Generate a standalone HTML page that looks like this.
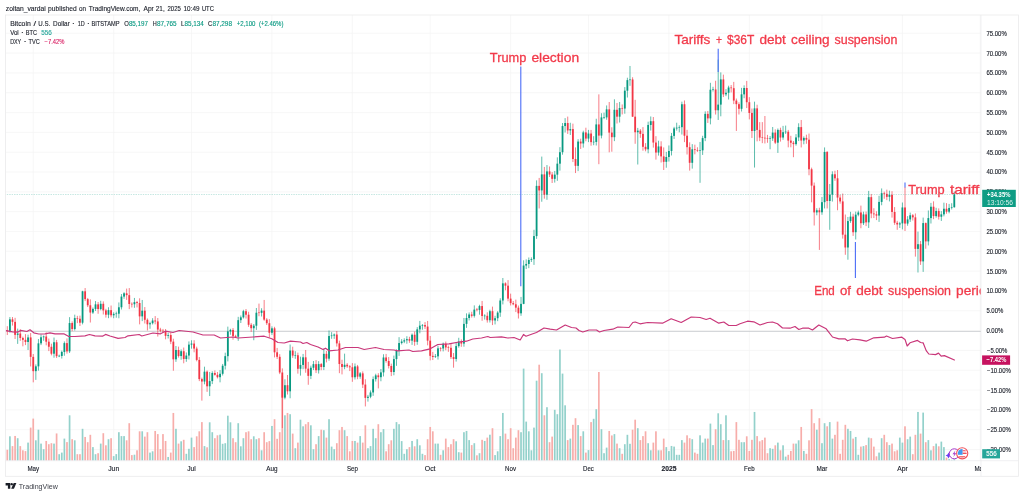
<!DOCTYPE html>
<html lang="en"><head><meta charset="utf-8"><title>BTCUSD chart</title>
<style>html,body{margin:0;padding:0;background:#fff}body{width:1024px;height:496px;overflow:hidden}svg{display:block}text{font-family:"Liberation Sans",sans-serif}</style></head><body>
<svg width="1024" height="496" viewBox="0 0 1024 496">
<rect width="1024" height="496" fill="#fff"/>
<line x1="5.5" x2="981.0" y1="449.54" y2="449.54" stroke="#f3f3f4" stroke-width="0.7"/>
<line x1="5.5" x2="981.0" y1="429.71" y2="429.71" stroke="#f3f3f4" stroke-width="0.7"/>
<line x1="5.5" x2="981.0" y1="409.89" y2="409.89" stroke="#f3f3f4" stroke-width="0.7"/>
<line x1="5.5" x2="981.0" y1="390.07" y2="390.07" stroke="#f3f3f4" stroke-width="0.7"/>
<line x1="5.5" x2="981.0" y1="370.25" y2="370.25" stroke="#f3f3f4" stroke-width="0.7"/>
<line x1="5.5" x2="981.0" y1="350.42" y2="350.42" stroke="#f3f3f4" stroke-width="0.7"/>
<line x1="5.5" x2="981.0" y1="330.60" y2="330.60" stroke="#f3f3f4" stroke-width="0.7"/>
<line x1="5.5" x2="981.0" y1="310.78" y2="310.78" stroke="#f3f3f4" stroke-width="0.7"/>
<line x1="5.5" x2="981.0" y1="290.96" y2="290.96" stroke="#f3f3f4" stroke-width="0.7"/>
<line x1="5.5" x2="981.0" y1="271.13" y2="271.13" stroke="#f3f3f4" stroke-width="0.7"/>
<line x1="5.5" x2="981.0" y1="251.31" y2="251.31" stroke="#f3f3f4" stroke-width="0.7"/>
<line x1="5.5" x2="981.0" y1="231.49" y2="231.49" stroke="#f3f3f4" stroke-width="0.7"/>
<line x1="5.5" x2="981.0" y1="211.67" y2="211.67" stroke="#f3f3f4" stroke-width="0.7"/>
<line x1="5.5" x2="981.0" y1="191.84" y2="191.84" stroke="#f3f3f4" stroke-width="0.7"/>
<line x1="5.5" x2="981.0" y1="172.02" y2="172.02" stroke="#f3f3f4" stroke-width="0.7"/>
<line x1="5.5" x2="981.0" y1="152.20" y2="152.20" stroke="#f3f3f4" stroke-width="0.7"/>
<line x1="5.5" x2="981.0" y1="132.38" y2="132.38" stroke="#f3f3f4" stroke-width="0.7"/>
<line x1="5.5" x2="981.0" y1="112.55" y2="112.55" stroke="#f3f3f4" stroke-width="0.7"/>
<line x1="5.5" x2="981.0" y1="92.73" y2="92.73" stroke="#f3f3f4" stroke-width="0.7"/>
<line x1="5.5" x2="981.0" y1="72.91" y2="72.91" stroke="#f3f3f4" stroke-width="0.7"/>
<line x1="5.5" x2="981.0" y1="53.09" y2="53.09" stroke="#f3f3f4" stroke-width="0.7"/>
<line x1="5.5" x2="981.0" y1="33.26" y2="33.26" stroke="#f3f3f4" stroke-width="0.7"/>
<line x1="33.25" x2="33.25" y1="15.0" y2="460.7" stroke="#f3f3f4" stroke-width="0.7"/>
<line x1="113.68" x2="113.68" y1="15.0" y2="460.7" stroke="#f3f3f4" stroke-width="0.7"/>
<line x1="191.51" x2="191.51" y1="15.0" y2="460.7" stroke="#f3f3f4" stroke-width="0.7"/>
<line x1="271.94" x2="271.94" y1="15.0" y2="460.7" stroke="#f3f3f4" stroke-width="0.7"/>
<line x1="352.37" x2="352.37" y1="15.0" y2="460.7" stroke="#f3f3f4" stroke-width="0.7"/>
<line x1="430.21" x2="430.21" y1="15.0" y2="460.7" stroke="#f3f3f4" stroke-width="0.7"/>
<line x1="510.64" x2="510.64" y1="15.0" y2="460.7" stroke="#f3f3f4" stroke-width="0.7"/>
<line x1="588.47" x2="588.47" y1="15.0" y2="460.7" stroke="#f3f3f4" stroke-width="0.7"/>
<line x1="668.90" x2="668.90" y1="15.0" y2="460.7" stroke="#f3f3f4" stroke-width="0.7"/>
<line x1="749.33" x2="749.33" y1="15.0" y2="460.7" stroke="#f3f3f4" stroke-width="0.7"/>
<line x1="821.98" x2="821.98" y1="15.0" y2="460.7" stroke="#f3f3f4" stroke-width="0.7"/>
<line x1="902.41" x2="902.41" y1="15.0" y2="460.7" stroke="#f3f3f4" stroke-width="0.7"/>
<line x1="980.24" x2="980.24" y1="15.0" y2="460.7" stroke="#f3f3f4" stroke-width="0.7"/>
<line x1="5.5" x2="981.0" y1="331.4" y2="331.4" stroke="#c4c6cc" stroke-width="0.8"/>
<g fill="#93d1cb"><rect x="9.05" y="436.30" width="1.7" height="24.40"/><rect x="16.83" y="438.20" width="1.7" height="22.50"/><rect x="27.21" y="442.60" width="1.7" height="18.10"/><rect x="34.99" y="440.30" width="1.7" height="20.40"/><rect x="37.59" y="429.70" width="1.7" height="31.00"/><rect x="40.18" y="443.60" width="1.7" height="17.10"/><rect x="42.78" y="449.20" width="1.7" height="11.50"/><rect x="53.16" y="443.60" width="1.7" height="17.10"/><rect x="58.34" y="454.20" width="1.7" height="6.50"/><rect x="60.94" y="452.60" width="1.7" height="8.10"/><rect x="63.53" y="438.60" width="1.7" height="22.10"/><rect x="68.72" y="415.30" width="1.7" height="45.40"/><rect x="73.91" y="440.30" width="1.7" height="20.40"/><rect x="81.70" y="428.80" width="1.7" height="31.90"/><rect x="92.07" y="447.10" width="1.7" height="13.60"/><rect x="94.67" y="454.20" width="1.7" height="6.50"/><rect x="99.86" y="443.60" width="1.7" height="17.10"/><rect x="107.64" y="439.20" width="1.7" height="21.50"/><rect x="112.83" y="456.10" width="1.7" height="4.60"/><rect x="115.42" y="454.10" width="1.7" height="6.60"/><rect x="118.02" y="432.20" width="1.7" height="28.50"/><rect x="120.61" y="436.10" width="1.7" height="24.60"/><rect x="123.21" y="436.10" width="1.7" height="24.60"/><rect x="133.59" y="454.70" width="1.7" height="6.00"/><rect x="141.37" y="431.30" width="1.7" height="29.40"/><rect x="149.15" y="452.60" width="1.7" height="8.10"/><rect x="151.75" y="451.30" width="1.7" height="9.40"/><rect x="167.31" y="456.95" width="1.7" height="3.75"/><rect x="175.10" y="428.80" width="1.7" height="31.90"/><rect x="180.29" y="441.30" width="1.7" height="19.40"/><rect x="185.48" y="453.80" width="1.7" height="6.90"/><rect x="188.07" y="448.80" width="1.7" height="11.90"/><rect x="190.66" y="437.60" width="1.7" height="23.10"/><rect x="203.64" y="446.10" width="1.7" height="14.60"/><rect x="208.83" y="422.30" width="1.7" height="38.40"/><rect x="211.42" y="432.20" width="1.7" height="28.50"/><rect x="219.20" y="434.70" width="1.7" height="26.00"/><rect x="221.80" y="443.80" width="1.7" height="16.90"/><rect x="224.39" y="443.20" width="1.7" height="17.50"/><rect x="226.99" y="415.70" width="1.7" height="45.00"/><rect x="229.58" y="422.30" width="1.7" height="38.40"/><rect x="237.37" y="423.20" width="1.7" height="37.50"/><rect x="239.96" y="446.30" width="1.7" height="14.40"/><rect x="242.55" y="438.20" width="1.7" height="22.50"/><rect x="252.93" y="436.30" width="1.7" height="24.40"/><rect x="255.53" y="439.20" width="1.7" height="21.50"/><rect x="260.72" y="450.30" width="1.7" height="10.40"/><rect x="271.09" y="425.95" width="1.7" height="34.75"/><rect x="284.07" y="415.30" width="1.7" height="45.40"/><rect x="289.26" y="414.20" width="1.7" height="46.50"/><rect x="294.44" y="448.20" width="1.7" height="12.50"/><rect x="299.63" y="419.70" width="1.7" height="41.00"/><rect x="302.23" y="426.30" width="1.7" height="34.40"/><rect x="310.01" y="425.30" width="1.7" height="35.40"/><rect x="312.61" y="449.20" width="1.7" height="11.50"/><rect x="317.79" y="436.10" width="1.7" height="24.60"/><rect x="322.98" y="430.20" width="1.7" height="30.50"/><rect x="328.17" y="419.20" width="1.7" height="41.50"/><rect x="330.77" y="446.60" width="1.7" height="14.10"/><rect x="333.36" y="449.20" width="1.7" height="11.50"/><rect x="343.74" y="430.20" width="1.7" height="30.50"/><rect x="354.12" y="440.95" width="1.7" height="19.75"/><rect x="359.31" y="436.10" width="1.7" height="24.60"/><rect x="367.09" y="448.20" width="1.7" height="12.50"/><rect x="369.69" y="446.10" width="1.7" height="14.60"/><rect x="372.28" y="428.80" width="1.7" height="31.90"/><rect x="374.87" y="438.20" width="1.7" height="22.50"/><rect x="380.06" y="432.20" width="1.7" height="28.50"/><rect x="382.66" y="429.10" width="1.7" height="31.60"/><rect x="393.04" y="428.80" width="1.7" height="31.90"/><rect x="395.63" y="422.10" width="1.7" height="38.60"/><rect x="398.22" y="424.20" width="1.7" height="36.50"/><rect x="400.82" y="441.10" width="1.7" height="19.60"/><rect x="403.41" y="453.80" width="1.7" height="6.90"/><rect x="406.01" y="449.20" width="1.7" height="11.50"/><rect x="411.20" y="440.95" width="1.7" height="19.75"/><rect x="416.39" y="439.20" width="1.7" height="21.50"/><rect x="418.98" y="445.30" width="1.7" height="15.40"/><rect x="421.57" y="453.80" width="1.7" height="6.90"/><rect x="434.55" y="443.60" width="1.7" height="17.10"/><rect x="437.14" y="443.60" width="1.7" height="17.10"/><rect x="442.33" y="450.30" width="1.7" height="10.40"/><rect x="455.30" y="441.30" width="1.7" height="19.40"/><rect x="457.90" y="452.20" width="1.7" height="8.50"/><rect x="463.09" y="432.20" width="1.7" height="28.50"/><rect x="465.68" y="430.95" width="1.7" height="29.75"/><rect x="468.28" y="440.10" width="1.7" height="20.60"/><rect x="473.46" y="443.20" width="1.7" height="17.50"/><rect x="478.65" y="453.20" width="1.7" height="7.50"/><rect x="483.84" y="440.95" width="1.7" height="19.75"/><rect x="489.03" y="434.70" width="1.7" height="26.00"/><rect x="494.22" y="455.10" width="1.7" height="5.60"/><rect x="496.82" y="451.30" width="1.7" height="9.40"/><rect x="499.41" y="436.10" width="1.7" height="24.60"/><rect x="502.00" y="412.95" width="1.7" height="47.75"/><rect x="520.17" y="432.20" width="1.7" height="28.50"/><rect x="522.76" y="368.60" width="1.7" height="92.10"/><rect x="525.35" y="421.60" width="1.7" height="39.10"/><rect x="527.95" y="431.30" width="1.7" height="29.40"/><rect x="530.54" y="450.30" width="1.7" height="10.40"/><rect x="533.14" y="427.60" width="1.7" height="33.10"/><rect x="535.73" y="380.70" width="1.7" height="80.00"/><rect x="540.92" y="373.20" width="1.7" height="87.50"/><rect x="546.11" y="407.20" width="1.7" height="53.50"/><rect x="553.89" y="409.80" width="1.7" height="50.90"/><rect x="556.49" y="414.20" width="1.7" height="46.50"/><rect x="559.08" y="349.50" width="1.7" height="111.20"/><rect x="561.68" y="373.60" width="1.7" height="87.10"/><rect x="564.27" y="405.30" width="1.7" height="55.40"/><rect x="569.46" y="438.60" width="1.7" height="22.10"/><rect x="577.25" y="425.10" width="1.7" height="35.60"/><rect x="582.43" y="431.30" width="1.7" height="29.40"/><rect x="587.62" y="450.10" width="1.7" height="10.60"/><rect x="592.81" y="418.80" width="1.7" height="41.90"/><rect x="595.41" y="409.20" width="1.7" height="51.50"/><rect x="600.60" y="429.20" width="1.7" height="31.50"/><rect x="603.19" y="453.20" width="1.7" height="7.50"/><rect x="605.78" y="447.60" width="1.7" height="13.10"/><rect x="613.57" y="434.10" width="1.7" height="26.60"/><rect x="618.76" y="448.20" width="1.7" height="12.50"/><rect x="623.95" y="444.20" width="1.7" height="16.50"/><rect x="626.54" y="434.80" width="1.7" height="25.90"/><rect x="629.13" y="443.80" width="1.7" height="16.90"/><rect x="636.92" y="428.20" width="1.7" height="32.50"/><rect x="647.30" y="443.20" width="1.7" height="17.50"/><rect x="649.89" y="450.30" width="1.7" height="10.40"/><rect x="657.67" y="450.30" width="1.7" height="10.40"/><rect x="665.46" y="447.10" width="1.7" height="13.60"/><rect x="668.05" y="451.10" width="1.7" height="9.60"/><rect x="670.65" y="445.95" width="1.7" height="14.75"/><rect x="673.24" y="446.60" width="1.7" height="14.10"/><rect x="675.84" y="454.80" width="1.7" height="5.90"/><rect x="678.43" y="454.80" width="1.7" height="5.90"/><rect x="681.02" y="440.10" width="1.7" height="20.60"/><rect x="691.40" y="439.20" width="1.7" height="21.50"/><rect x="699.19" y="435.30" width="1.7" height="25.40"/><rect x="701.78" y="442.60" width="1.7" height="18.10"/><rect x="704.38" y="438.60" width="1.7" height="22.10"/><rect x="709.56" y="423.60" width="1.7" height="37.10"/><rect x="712.16" y="445.10" width="1.7" height="15.60"/><rect x="717.35" y="413.30" width="1.7" height="47.40"/><rect x="719.94" y="424.20" width="1.7" height="36.50"/><rect x="725.13" y="415.30" width="1.7" height="45.40"/><rect x="727.73" y="440.10" width="1.7" height="20.60"/><rect x="740.70" y="442.20" width="1.7" height="18.50"/><rect x="743.29" y="442.20" width="1.7" height="18.50"/><rect x="753.67" y="411.95" width="1.7" height="48.75"/><rect x="769.24" y="448.20" width="1.7" height="12.50"/><rect x="771.83" y="448.80" width="1.7" height="11.90"/><rect x="777.02" y="442.60" width="1.7" height="18.10"/><rect x="782.21" y="445.30" width="1.7" height="15.40"/><rect x="784.80" y="456.60" width="1.7" height="4.10"/><rect x="795.18" y="443.60" width="1.7" height="17.10"/><rect x="797.78" y="440.30" width="1.7" height="20.40"/><rect x="802.97" y="450.95" width="1.7" height="9.75"/><rect x="815.94" y="429.70" width="1.7" height="31.00"/><rect x="821.13" y="443.20" width="1.7" height="17.50"/><rect x="823.72" y="423.20" width="1.7" height="37.50"/><rect x="828.91" y="422.10" width="1.7" height="38.60"/><rect x="831.51" y="438.60" width="1.7" height="22.10"/><rect x="847.07" y="428.80" width="1.7" height="31.90"/><rect x="849.67" y="430.95" width="1.7" height="29.75"/><rect x="854.86" y="436.95" width="1.7" height="23.75"/><rect x="857.45" y="454.80" width="1.7" height="5.90"/><rect x="862.64" y="446.10" width="1.7" height="14.60"/><rect x="867.83" y="437.60" width="1.7" height="23.10"/><rect x="878.21" y="452.60" width="1.7" height="8.10"/><rect x="880.80" y="438.20" width="1.7" height="22.50"/><rect x="888.59" y="445.10" width="1.7" height="15.60"/><rect x="898.96" y="437.60" width="1.7" height="23.10"/><rect x="901.56" y="442.60" width="1.7" height="18.10"/><rect x="906.75" y="439.20" width="1.7" height="21.50"/><rect x="909.34" y="436.60" width="1.7" height="24.10"/><rect x="917.12" y="411.95" width="1.7" height="48.75"/><rect x="922.31" y="412.60" width="1.7" height="48.10"/><rect x="927.50" y="440.10" width="1.7" height="20.60"/><rect x="930.10" y="450.30" width="1.7" height="10.40"/><rect x="935.29" y="443.60" width="1.7" height="17.10"/><rect x="940.48" y="441.60" width="1.7" height="19.10"/><rect x="943.07" y="447.10" width="1.7" height="13.60"/><rect x="948.26" y="459.10" width="1.7" height="1.60"/><rect x="950.85" y="459.80" width="1.7" height="0.90"/><rect x="953.45" y="459.20" width="1.7" height="1.50"/></g>
<g fill="#f7adaa"><rect x="6.46" y="449.80" width="1.7" height="10.90"/><rect x="11.64" y="446.10" width="1.7" height="14.60"/><rect x="14.24" y="435.95" width="1.7" height="24.75"/><rect x="19.43" y="446.10" width="1.7" height="14.60"/><rect x="22.02" y="450.30" width="1.7" height="10.40"/><rect x="24.62" y="451.10" width="1.7" height="9.60"/><rect x="29.81" y="427.60" width="1.7" height="33.10"/><rect x="32.40" y="418.60" width="1.7" height="42.10"/><rect x="45.37" y="440.95" width="1.7" height="19.75"/><rect x="47.97" y="444.20" width="1.7" height="16.50"/><rect x="50.56" y="443.20" width="1.7" height="17.50"/><rect x="55.75" y="433.45" width="1.7" height="27.25"/><rect x="66.13" y="442.10" width="1.7" height="18.60"/><rect x="71.32" y="439.20" width="1.7" height="21.50"/><rect x="76.51" y="454.20" width="1.7" height="6.50"/><rect x="79.10" y="454.20" width="1.7" height="6.50"/><rect x="84.29" y="436.95" width="1.7" height="23.75"/><rect x="86.88" y="442.20" width="1.7" height="18.50"/><rect x="89.48" y="434.80" width="1.7" height="25.90"/><rect x="97.26" y="453.20" width="1.7" height="7.50"/><rect x="102.45" y="433.20" width="1.7" height="27.50"/><rect x="105.05" y="445.30" width="1.7" height="15.40"/><rect x="110.24" y="438.20" width="1.7" height="22.50"/><rect x="125.80" y="440.30" width="1.7" height="20.40"/><rect x="128.40" y="423.20" width="1.7" height="37.50"/><rect x="130.99" y="455.10" width="1.7" height="5.60"/><rect x="136.18" y="450.30" width="1.7" height="10.40"/><rect x="138.77" y="431.30" width="1.7" height="29.40"/><rect x="143.96" y="436.60" width="1.7" height="24.10"/><rect x="146.56" y="432.20" width="1.7" height="28.50"/><rect x="154.34" y="430.95" width="1.7" height="29.75"/><rect x="156.94" y="434.10" width="1.7" height="26.60"/><rect x="159.53" y="449.20" width="1.7" height="11.50"/><rect x="162.12" y="434.10" width="1.7" height="26.60"/><rect x="164.72" y="440.95" width="1.7" height="19.75"/><rect x="169.91" y="452.60" width="1.7" height="8.10"/><rect x="172.50" y="412.95" width="1.7" height="47.75"/><rect x="177.69" y="443.60" width="1.7" height="17.10"/><rect x="182.88" y="439.80" width="1.7" height="20.90"/><rect x="193.26" y="447.10" width="1.7" height="13.60"/><rect x="195.85" y="436.30" width="1.7" height="24.40"/><rect x="198.45" y="431.30" width="1.7" height="29.40"/><rect x="201.04" y="422.10" width="1.7" height="38.60"/><rect x="206.23" y="447.30" width="1.7" height="13.40"/><rect x="214.02" y="438.20" width="1.7" height="22.50"/><rect x="216.61" y="435.30" width="1.7" height="25.40"/><rect x="232.18" y="438.20" width="1.7" height="22.50"/><rect x="234.77" y="442.20" width="1.7" height="18.50"/><rect x="245.15" y="432.20" width="1.7" height="28.50"/><rect x="247.74" y="431.30" width="1.7" height="29.40"/><rect x="250.34" y="439.20" width="1.7" height="21.50"/><rect x="258.12" y="438.20" width="1.7" height="22.50"/><rect x="263.31" y="432.20" width="1.7" height="28.50"/><rect x="265.90" y="442.20" width="1.7" height="18.50"/><rect x="268.50" y="441.10" width="1.7" height="19.60"/><rect x="273.69" y="419.20" width="1.7" height="41.50"/><rect x="276.28" y="438.80" width="1.7" height="21.90"/><rect x="278.88" y="432.20" width="1.7" height="28.50"/><rect x="281.47" y="375.70" width="1.7" height="85.00"/><rect x="286.66" y="412.95" width="1.7" height="47.75"/><rect x="291.85" y="433.60" width="1.7" height="27.10"/><rect x="297.04" y="442.60" width="1.7" height="18.10"/><rect x="304.82" y="424.20" width="1.7" height="36.50"/><rect x="307.42" y="422.10" width="1.7" height="38.60"/><rect x="315.20" y="444.20" width="1.7" height="16.50"/><rect x="320.39" y="429.70" width="1.7" height="31.00"/><rect x="325.58" y="437.60" width="1.7" height="23.10"/><rect x="335.96" y="443.20" width="1.7" height="17.50"/><rect x="338.55" y="430.20" width="1.7" height="30.50"/><rect x="341.15" y="426.95" width="1.7" height="33.75"/><rect x="346.33" y="436.10" width="1.7" height="24.60"/><rect x="348.93" y="451.30" width="1.7" height="9.40"/><rect x="351.52" y="440.95" width="1.7" height="19.75"/><rect x="356.71" y="442.60" width="1.7" height="18.10"/><rect x="361.90" y="442.60" width="1.7" height="18.10"/><rect x="364.50" y="425.30" width="1.7" height="35.40"/><rect x="377.47" y="424.20" width="1.7" height="36.50"/><rect x="385.25" y="451.30" width="1.7" height="9.40"/><rect x="387.85" y="444.20" width="1.7" height="16.50"/><rect x="390.44" y="440.30" width="1.7" height="20.40"/><rect x="408.60" y="447.10" width="1.7" height="13.60"/><rect x="413.79" y="446.30" width="1.7" height="14.40"/><rect x="424.17" y="455.10" width="1.7" height="5.60"/><rect x="426.76" y="439.20" width="1.7" height="21.50"/><rect x="429.36" y="426.95" width="1.7" height="33.75"/><rect x="431.95" y="431.30" width="1.7" height="29.40"/><rect x="439.74" y="454.80" width="1.7" height="5.90"/><rect x="444.93" y="438.60" width="1.7" height="22.10"/><rect x="447.52" y="447.10" width="1.7" height="13.60"/><rect x="450.11" y="444.20" width="1.7" height="16.50"/><rect x="452.71" y="439.20" width="1.7" height="21.50"/><rect x="460.49" y="452.60" width="1.7" height="8.10"/><rect x="470.87" y="445.10" width="1.7" height="15.60"/><rect x="476.06" y="455.30" width="1.7" height="5.40"/><rect x="481.25" y="439.80" width="1.7" height="20.90"/><rect x="486.44" y="437.60" width="1.7" height="23.10"/><rect x="491.63" y="428.20" width="1.7" height="32.50"/><rect x="504.60" y="433.60" width="1.7" height="27.10"/><rect x="507.19" y="439.20" width="1.7" height="21.50"/><rect x="509.79" y="428.20" width="1.7" height="32.50"/><rect x="512.38" y="448.20" width="1.7" height="12.50"/><rect x="514.98" y="437.60" width="1.7" height="23.10"/><rect x="517.57" y="430.20" width="1.7" height="30.50"/><rect x="538.33" y="364.70" width="1.7" height="96.00"/><rect x="543.52" y="415.30" width="1.7" height="45.40"/><rect x="548.71" y="442.20" width="1.7" height="18.50"/><rect x="551.30" y="436.60" width="1.7" height="24.10"/><rect x="566.87" y="440.10" width="1.7" height="20.60"/><rect x="572.06" y="424.80" width="1.7" height="35.90"/><rect x="574.65" y="418.20" width="1.7" height="42.50"/><rect x="579.84" y="436.10" width="1.7" height="24.60"/><rect x="585.03" y="452.60" width="1.7" height="8.10"/><rect x="590.22" y="422.10" width="1.7" height="38.60"/><rect x="598.00" y="372.00" width="1.7" height="88.70"/><rect x="608.38" y="430.95" width="1.7" height="29.75"/><rect x="610.97" y="435.45" width="1.7" height="25.25"/><rect x="616.16" y="443.60" width="1.7" height="17.10"/><rect x="621.35" y="453.80" width="1.7" height="6.90"/><rect x="631.73" y="429.70" width="1.7" height="31.00"/><rect x="634.32" y="419.70" width="1.7" height="41.00"/><rect x="639.51" y="440.10" width="1.7" height="20.60"/><rect x="642.11" y="436.10" width="1.7" height="24.60"/><rect x="644.70" y="431.30" width="1.7" height="29.40"/><rect x="652.49" y="442.60" width="1.7" height="18.10"/><rect x="655.08" y="431.30" width="1.7" height="29.40"/><rect x="660.27" y="450.30" width="1.7" height="10.40"/><rect x="662.86" y="438.60" width="1.7" height="22.10"/><rect x="683.62" y="442.60" width="1.7" height="18.10"/><rect x="686.21" y="435.30" width="1.7" height="25.40"/><rect x="688.81" y="438.20" width="1.7" height="22.50"/><rect x="694.00" y="452.60" width="1.7" height="8.10"/><rect x="696.59" y="453.80" width="1.7" height="6.90"/><rect x="706.97" y="438.60" width="1.7" height="22.10"/><rect x="714.75" y="429.20" width="1.7" height="31.50"/><rect x="722.54" y="440.10" width="1.7" height="20.60"/><rect x="730.32" y="451.30" width="1.7" height="9.40"/><rect x="732.91" y="450.95" width="1.7" height="9.75"/><rect x="735.51" y="422.10" width="1.7" height="38.60"/><rect x="738.10" y="439.80" width="1.7" height="20.90"/><rect x="745.89" y="436.30" width="1.7" height="24.40"/><rect x="748.48" y="450.95" width="1.7" height="9.75"/><rect x="751.08" y="439.80" width="1.7" height="20.90"/><rect x="756.27" y="436.10" width="1.7" height="24.60"/><rect x="758.86" y="441.30" width="1.7" height="19.40"/><rect x="761.45" y="440.10" width="1.7" height="20.60"/><rect x="764.05" y="437.60" width="1.7" height="23.10"/><rect x="766.64" y="453.20" width="1.7" height="7.50"/><rect x="774.43" y="445.30" width="1.7" height="15.40"/><rect x="779.62" y="450.30" width="1.7" height="10.40"/><rect x="787.40" y="454.80" width="1.7" height="5.90"/><rect x="789.99" y="450.95" width="1.7" height="9.75"/><rect x="792.59" y="443.60" width="1.7" height="17.10"/><rect x="800.37" y="426.95" width="1.7" height="33.75"/><rect x="805.56" y="453.80" width="1.7" height="6.90"/><rect x="808.16" y="440.30" width="1.7" height="20.40"/><rect x="810.75" y="409.10" width="1.7" height="51.60"/><rect x="813.34" y="423.20" width="1.7" height="37.50"/><rect x="818.53" y="418.20" width="1.7" height="42.50"/><rect x="826.32" y="426.30" width="1.7" height="34.40"/><rect x="834.10" y="434.80" width="1.7" height="25.90"/><rect x="836.69" y="421.60" width="1.7" height="39.10"/><rect x="839.29" y="453.80" width="1.7" height="6.90"/><rect x="841.88" y="439.80" width="1.7" height="20.90"/><rect x="844.48" y="424.80" width="1.7" height="35.90"/><rect x="852.26" y="438.60" width="1.7" height="22.10"/><rect x="860.05" y="446.60" width="1.7" height="14.10"/><rect x="865.23" y="445.10" width="1.7" height="15.60"/><rect x="870.42" y="438.20" width="1.7" height="22.50"/><rect x="873.02" y="446.60" width="1.7" height="14.10"/><rect x="875.61" y="456.30" width="1.7" height="4.40"/><rect x="883.40" y="434.80" width="1.7" height="25.90"/><rect x="885.99" y="442.20" width="1.7" height="18.50"/><rect x="891.18" y="443.60" width="1.7" height="17.10"/><rect x="893.77" y="451.30" width="1.7" height="9.40"/><rect x="896.37" y="450.30" width="1.7" height="10.40"/><rect x="904.15" y="426.30" width="1.7" height="34.40"/><rect x="911.94" y="454.20" width="1.7" height="6.50"/><rect x="914.53" y="434.80" width="1.7" height="25.90"/><rect x="919.72" y="433.60" width="1.7" height="27.10"/><rect x="924.91" y="442.20" width="1.7" height="18.50"/><rect x="932.69" y="446.10" width="1.7" height="14.60"/><rect x="937.88" y="446.30" width="1.7" height="14.40"/><rect x="945.66" y="457.60" width="1.7" height="3.10"/></g>
<path d="M9.90 317.04V332.70M17.68 328.64V343.89M28.06 334.68V349.99M35.84 364.41V379.89M38.44 339.06V370.65M41.03 334.30V345.08M43.63 335.51V340.76M54.01 337.52V357.71M59.20 354.66V357.11M61.79 350.61V358.54M64.38 341.45V355.72M69.57 317.15V353.04M74.76 314.66V330.56M82.55 290.81V324.36M92.92 307.51V313.92M95.52 301.07V310.95M100.71 300.80V310.29M108.49 307.26V318.18M113.68 312.26V318.23M116.27 311.63V317.74M118.87 302.45V318.27M121.46 294.04V309.51M124.06 292.19V298.81M134.44 297.94V307.81M142.22 299.96V321.12M150.00 321.73V328.77M152.60 318.20V324.49M168.16 332.66V338.51M175.95 346.00V361.87M181.14 349.42V359.72M186.33 352.49V361.81M188.92 341.43V359.43M191.51 340.27V348.67M204.49 366.68V384.32M209.68 371.95V396.05M212.27 371.27V384.07M220.05 370.07V382.33M222.65 363.94V375.51M225.24 352.69V369.49M227.84 326.64V361.40M230.43 328.79V334.72M238.22 316.83V340.84M240.81 315.49V323.00M243.40 309.80V318.54M253.78 324.04V340.23M256.38 307.99V329.92M261.57 308.25V316.51M271.94 326.36V334.92M284.92 379.28V399.31M290.11 344.50V398.26M295.29 351.19V358.80M300.48 356.70V375.62M303.08 353.94V369.23M310.86 365.67V379.09M313.46 361.01V370.05M318.64 361.14V373.56M323.83 348.67V370.09M329.02 330.47V360.74M331.62 332.17V338.80M334.21 333.51V338.85M344.59 353.65V369.22M354.97 363.47V379.53M360.16 372.03V378.77M367.94 394.89V401.60M370.54 390.43V398.24M373.13 376.47V395.85M375.72 373.73V381.56M380.91 369.00V381.26M383.51 354.25V376.44M393.89 355.59V375.27M396.48 349.39V365.85M399.07 337.18V355.90M401.67 339.14V344.49M404.26 338.31V343.16M406.86 336.21V343.74M412.05 333.49V344.90M417.24 327.14V344.80M419.83 320.92V333.30M422.43 324.05V329.73M435.40 354.01V357.96M437.99 345.69V359.59M443.18 342.56V351.42M456.15 342.31V361.58M458.75 337.79V347.65M463.94 317.99V346.70M466.53 313.36V327.86M469.13 312.43V320.43M474.31 305.38V317.55M479.50 304.76V314.69M484.69 314.29V319.59M489.88 309.72V322.53M495.07 315.79V324.43M497.67 311.18V321.17M500.26 298.25V316.82M502.85 277.99V304.41M521.02 296.91V315.82M523.61 260.30V304.23M526.20 259.42V269.07M528.80 257.50V268.20M531.39 257.35V261.98M533.99 229.79V264.91M536.58 180.37V238.86M541.77 156.58V201.73M546.96 165.06V199.80M554.74 170.94V182.59M557.34 157.35V180.84M559.93 147.17V170.62M562.53 123.02V154.70M565.12 118.14V132.48M570.31 122.75V134.99M578.10 139.15V171.08M583.28 130.72V147.62M588.47 129.92V142.11M593.66 136.19V145.21M596.26 118.74V145.51M601.45 113.22V138.36M604.04 112.67V119.12M606.63 105.45V119.77M614.42 99.30V141.14M619.61 101.97V122.50M624.80 87.09V113.71M627.39 77.73V97.53M629.99 65.97V85.84M637.77 127.90V164.51M648.15 121.66V153.28M650.74 116.46V130.59M658.52 140.72V155.60M666.31 151.87V167.72M668.90 145.45V161.56M671.50 133.01V155.46M674.09 126.85V138.98M676.69 122.69V130.65M679.28 125.31V132.32M681.88 101.67V134.54M692.25 144.14V168.61M700.04 141.94V182.81M702.63 135.80V154.94M705.23 111.34V141.13M710.41 82.81V124.37M713.01 86.79V91.56M718.20 59.57V119.97M720.79 72.38V116.31M725.98 89.12V96.13M728.58 85.73V99.51M741.55 87.87V111.53M744.14 85.35V98.24M754.52 101.67V167.56M770.09 136.08V149.26M772.68 126.99V140.95M777.87 128.51V152.92M783.06 125.88V139.77M785.65 125.60V133.95M796.03 134.12V145.67M798.63 123.28V141.05M803.82 136.40V144.31M816.79 208.22V215.31M821.98 197.04V214.79M824.57 147.43V208.44M829.76 184.03V229.79M832.36 171.34V201.57M847.92 216.98V259.69M850.52 211.80V222.89M855.71 211.63V239.49M858.30 210.65V216.28M863.49 211.65V224.97M868.68 190.89V227.98M879.06 195.77V221.92M881.65 188.44V205.26M889.44 190.67V201.41M899.81 221.83V227.99M902.41 202.50V229.40M907.60 216.14V225.75M910.19 212.58V221.94M917.97 231.62V272.50M923.16 217.59V271.89M928.35 210.46V245.43M930.95 202.91V223.52M936.14 207.79V217.66M941.33 211.13V220.92M943.92 202.66V216.34M949.11 203.95V213.29M951.70 203.21V209.48M954.30 191.57V207.62" stroke="#089981" stroke-width="0.65" fill="none"/>
<path d="M7.30 326.19V335.04M12.49 317.04V325.58M15.09 317.84V339.01M20.28 329.24V340.84M22.87 336.65V346.33M25.47 334.13V345.10M30.66 333.01V366.46M33.25 353.99V382.33M46.22 332.40V345.34M48.82 338.56V351.11M51.41 343.68V355.39M56.60 339.92V357.93M66.98 338.42V353.60M72.17 321.36V331.13M77.36 315.85V323.14M79.95 315.67V326.02M85.14 288.06V301.10M87.73 297.95V307.05M90.33 299.35V322.53M98.11 302.03V313.78M103.30 301.39V314.49M105.90 308.85V317.60M111.09 305.54V317.35M126.65 288.58V299.92M129.25 288.06V309.11M131.84 302.38V307.48M137.03 300.90V307.43M139.62 298.34V324.36M144.81 307.07V323.49M147.41 318.41V330.47M155.19 316.07V324.30M157.79 317.98V336.57M160.38 327.80V332.46M162.97 328.95V332.73M165.57 329.02V339.34M170.76 332.39V344.11M173.35 338.73V370.73M178.54 346.64V357.63M183.73 347.55V363.30M194.11 340.18V352.31M196.70 346.66V361.32M199.30 357.04V381.11M201.89 377.65V400.63M207.08 370.43V391.84M214.87 370.40V375.67M217.46 371.96V378.46M233.03 328.01V339.70M235.62 334.78V337.87M246.00 309.02V318.52M248.59 311.78V326.88M251.19 323.07V331.92M258.97 303.62V316.24M264.16 299.96V320.79M266.75 318.13V325.03M269.35 319.18V337.63M274.54 326.80V357.40M277.13 347.91V359.03M279.73 354.21V374.11M282.32 368.38V428.09M287.51 375.01V394.53M292.70 346.69V357.90M297.89 352.65V373.65M305.67 349.99V372.76M308.27 361.89V384.77M316.05 360.13V373.06M321.24 363.00V370.19M326.43 350.98V362.38M336.81 331.00V346.57M339.40 340.66V373.17M342.00 359.75V374.40M347.18 363.12V367.89M349.78 365.09V371.08M352.37 363.12V381.81M357.56 364.91V379.24M362.75 371.38V388.06M365.35 379.28V406.43M378.32 373.22V388.43M386.10 353.92V362.67M388.70 357.09V368.49M391.29 363.62V376.08M409.45 336.79V342.82M414.64 331.51V345.81M425.02 322.11V328.99M427.61 320.98V345.33M430.21 335.96V360.36M432.80 351.83V360.04M440.59 347.14V351.40M445.78 341.54V350.25M448.37 345.61V351.86M450.96 343.35V359.00M453.56 353.00V367.68M461.34 339.43V346.77M471.72 311.78V317.56M476.91 307.91V311.34M482.10 300.95V320.77M487.29 312.29V322.62M492.48 306.61V325.09M505.45 282.32V290.31M508.04 280.09V301.31M510.64 293.65V305.47M513.23 301.03V305.28M515.83 299.64V312.06M518.42 305.52V318.52M539.18 177.93V208.44M544.37 166.95V198.68M549.56 166.51V176.97M552.15 172.07V183.01M567.72 116.60V133.92M572.91 123.63V162.07M575.50 147.43V173.05M580.69 138.70V148.96M585.88 127.72V141.27M591.07 129.93V145.71M598.85 94.35V164.21M609.23 102.00V152.31M611.82 127.29V151.70M617.01 103.00V123.51M622.20 104.45V114.43M632.58 77.26V116.92M635.17 99.84V143.77M640.36 129.03V137.80M642.96 127.11V150.72M645.55 143.14V151.30M653.34 117.02V147.58M655.93 136.17V159.63M661.12 141.29V162.49M663.71 147.43V170.00M684.47 100.45V142.11M687.06 129.83V154.51M689.66 142.35V170.61M694.85 144.66V154.33M697.44 147.27V151.88M707.82 111.01V122.97M715.60 80.75V114.56M723.39 74.63V97.05M731.17 85.02V92.44M733.76 81.90V104.12M736.36 98.56V130.95M738.95 102.30V114.51M746.74 80.92V108.04M749.33 97.15V119.38M751.93 108.52V137.97M757.12 104.72V141.33M759.71 122.11V141.10M762.30 122.11V143.16M764.90 116.01V143.46M767.49 134.88V142.79M775.28 129.35V144.05M780.47 127.69V141.59M788.25 129.91V147.32M790.84 135.81V147.31M793.44 141.01V157.19M801.22 119.97V147.44M806.41 134.70V143.75M809.01 133.54V175.26M811.60 167.65V202.34M814.19 182.54V225.52M819.38 207.74V249.93M827.17 151.09V208.44M834.95 170.75V180.83M837.54 170.00V210.27M840.14 194.67V203.70M842.73 193.54V238.60M845.33 214.54V254.81M853.11 213.69V235.93M860.90 205.60V228.24M866.08 211.56V226.11M871.27 193.94V218.22M873.87 208.23V218.06M876.46 211.28V220.10M884.25 191.61V198.75M886.84 189.66V200.13M892.03 191.21V217.62M894.62 207.10V224.84M897.22 220.85V229.81M905.00 187.09V231.01M912.79 214.06V220.51M915.38 213.46V256.64M920.57 240.98V264.88M925.76 222.47V248.71M933.54 201.33V219.17M938.73 208.39V219.56M946.51 203.14V213.72" stroke="#f23645" stroke-width="0.65" fill="none"/>
<g fill="#089981"><rect x="9.00" y="319.36" width="1.8" height="11.47"/><rect x="16.78" y="333.52" width="1.8" height="1.34"/><rect x="27.16" y="337.42" width="1.8" height="4.58"/><rect x="34.94" y="366.34" width="1.8" height="4.82"/><rect x="37.54" y="343.34" width="1.8" height="23.00"/><rect x="40.13" y="337.24" width="1.8" height="6.10"/><rect x="42.73" y="336.51" width="1.8" height="0.73"/><rect x="53.11" y="342.24" width="1.8" height="11.47"/><rect x="58.30" y="355.76" width="1.8" height="0.60"/><rect x="60.89" y="351.94" width="1.8" height="4.03"/><rect x="63.48" y="343.10" width="1.8" height="8.85"/><rect x="68.67" y="323.02" width="1.8" height="28.37"/><rect x="73.86" y="318.08" width="1.8" height="10.98"/><rect x="81.65" y="291.30" width="1.8" height="31.42"/><rect x="92.02" y="308.93" width="1.8" height="3.60"/><rect x="94.62" y="304.35" width="1.8" height="4.58"/><rect x="99.81" y="303.80" width="1.8" height="5.25"/><rect x="107.59" y="310.15" width="1.8" height="4.58"/><rect x="112.78" y="313.87" width="1.8" height="1.40"/><rect x="115.37" y="313.48" width="1.8" height="0.60"/><rect x="117.97" y="307.28" width="1.8" height="6.41"/><rect x="120.56" y="296.60" width="1.8" height="10.68"/><rect x="123.16" y="293.31" width="1.8" height="3.29"/><rect x="133.54" y="302.16" width="1.8" height="2.07"/><rect x="141.32" y="310.70" width="1.8" height="5.67"/><rect x="149.10" y="323.21" width="1.8" height="1.10"/><rect x="151.70" y="320.52" width="1.8" height="2.68"/><rect x="167.26" y="335.04" width="1.8" height="0.85"/><rect x="175.05" y="349.99" width="1.8" height="9.33"/><rect x="180.24" y="351.21" width="1.8" height="4.82"/><rect x="185.43" y="355.54" width="1.8" height="3.48"/><rect x="188.02" y="344.62" width="1.8" height="10.92"/><rect x="190.61" y="343.58" width="1.8" height="1.04"/><rect x="203.59" y="371.65" width="1.8" height="9.88"/><rect x="208.78" y="381.11" width="1.8" height="5.19"/><rect x="211.37" y="372.99" width="1.8" height="8.11"/><rect x="219.15" y="373.78" width="1.8" height="3.42"/><rect x="221.75" y="365.73" width="1.8" height="8.05"/><rect x="224.34" y="356.15" width="1.8" height="9.58"/><rect x="226.94" y="331.38" width="1.8" height="24.77"/><rect x="229.53" y="329.92" width="1.8" height="1.46"/><rect x="237.32" y="320.15" width="1.8" height="16.60"/><rect x="239.91" y="317.35" width="1.8" height="2.81"/><rect x="242.50" y="311.19" width="1.8" height="6.16"/><rect x="252.88" y="325.71" width="1.8" height="2.50"/><rect x="255.48" y="312.71" width="1.8" height="13.00"/><rect x="260.67" y="310.64" width="1.8" height="2.20"/><rect x="271.04" y="328.33" width="1.8" height="4.45"/><rect x="284.02" y="385.19" width="1.8" height="12.45"/><rect x="289.21" y="350.54" width="1.8" height="40.76"/><rect x="294.39" y="355.12" width="1.8" height="0.60"/><rect x="299.58" y="364.94" width="1.8" height="3.84"/><rect x="302.18" y="357.31" width="1.8" height="7.63"/><rect x="309.96" y="367.74" width="1.8" height="8.11"/><rect x="312.56" y="364.14" width="1.8" height="3.60"/><rect x="317.75" y="364.08" width="1.8" height="6.16"/><rect x="322.93" y="353.83" width="1.8" height="13.18"/><rect x="328.12" y="336.02" width="1.8" height="22.64"/><rect x="330.72" y="335.50" width="1.8" height="0.60"/><rect x="333.31" y="334.55" width="1.8" height="1.04"/><rect x="343.69" y="364.76" width="1.8" height="2.20"/><rect x="354.07" y="366.40" width="1.8" height="10.86"/><rect x="359.26" y="373.36" width="1.8" height="3.29"/><rect x="367.04" y="396.73" width="1.8" height="1.16"/><rect x="369.64" y="392.45" width="1.8" height="4.27"/><rect x="372.23" y="379.15" width="1.8" height="13.30"/><rect x="374.82" y="375.37" width="1.8" height="3.78"/><rect x="380.01" y="372.38" width="1.8" height="4.82"/><rect x="382.61" y="357.49" width="1.8" height="14.89"/><rect x="392.99" y="359.08" width="1.8" height="12.93"/><rect x="395.58" y="350.91" width="1.8" height="8.18"/><rect x="398.17" y="343.03" width="1.8" height="7.87"/><rect x="400.77" y="341.51" width="1.8" height="1.53"/><rect x="403.36" y="340.29" width="1.8" height="1.22"/><rect x="405.96" y="339.13" width="1.8" height="1.16"/><rect x="411.15" y="334.74" width="1.8" height="5.92"/><rect x="416.34" y="329.37" width="1.8" height="12.45"/><rect x="418.93" y="325.65" width="1.8" height="3.72"/><rect x="421.53" y="325.04" width="1.8" height="0.61"/><rect x="434.50" y="356.34" width="1.8" height="0.67"/><rect x="437.09" y="348.34" width="1.8" height="7.99"/><rect x="442.28" y="343.77" width="1.8" height="4.70"/><rect x="455.25" y="346.09" width="1.8" height="12.87"/><rect x="457.85" y="341.51" width="1.8" height="4.58"/><rect x="463.04" y="323.88" width="1.8" height="19.71"/><rect x="465.63" y="318.02" width="1.8" height="5.86"/><rect x="468.23" y="314.48" width="1.8" height="3.54"/><rect x="473.42" y="309.60" width="1.8" height="6.22"/><rect x="478.60" y="306.06" width="1.8" height="3.90"/><rect x="483.79" y="315.61" width="1.8" height="0.60"/><rect x="488.98" y="311.19" width="1.8" height="9.03"/><rect x="494.17" y="318.20" width="1.8" height="2.26"/><rect x="496.77" y="312.59" width="1.8" height="5.61"/><rect x="499.36" y="300.51" width="1.8" height="12.08"/><rect x="501.95" y="283.36" width="1.8" height="17.14"/><rect x="520.12" y="303.86" width="1.8" height="9.46"/><rect x="522.71" y="265.55" width="1.8" height="38.32"/><rect x="525.30" y="263.96" width="1.8" height="1.59"/><rect x="527.90" y="260.00" width="1.8" height="3.97"/><rect x="530.49" y="259.20" width="1.8" height="0.79"/><rect x="533.09" y="236.08" width="1.8" height="23.12"/><rect x="535.68" y="185.87" width="1.8" height="50.21"/><rect x="540.87" y="174.39" width="1.8" height="16.05"/><rect x="546.06" y="171.40" width="1.8" height="23.31"/><rect x="553.84" y="174.64" width="1.8" height="4.21"/><rect x="556.44" y="163.66" width="1.8" height="10.98"/><rect x="559.03" y="152.19" width="1.8" height="11.47"/><rect x="561.63" y="126.07" width="1.8" height="26.11"/><rect x="564.22" y="123.02" width="1.8" height="3.05"/><rect x="569.41" y="129.06" width="1.8" height="1.40"/><rect x="577.20" y="141.57" width="1.8" height="24.28"/><rect x="582.38" y="132.42" width="1.8" height="11.04"/><rect x="587.57" y="133.52" width="1.8" height="5.06"/><rect x="592.76" y="141.73" width="1.8" height="0.60"/><rect x="595.36" y="124.43" width="1.8" height="17.51"/><rect x="600.55" y="117.41" width="1.8" height="18.18"/><rect x="603.14" y="117.11" width="1.8" height="0.60"/><rect x="605.73" y="109.35" width="1.8" height="8.05"/><rect x="613.52" y="109.78" width="1.8" height="27.39"/><rect x="618.71" y="108.01" width="1.8" height="8.66"/><rect x="623.90" y="90.68" width="1.8" height="17.88"/><rect x="626.49" y="80.13" width="1.8" height="10.56"/><rect x="629.09" y="79.46" width="1.8" height="0.67"/><rect x="636.87" y="130.65" width="1.8" height="1.59"/><rect x="647.25" y="124.97" width="1.8" height="24.34"/><rect x="649.84" y="121.19" width="1.8" height="3.78"/><rect x="657.62" y="146.45" width="1.8" height="6.10"/><rect x="665.41" y="157.01" width="1.8" height="4.82"/><rect x="668.00" y="150.97" width="1.8" height="6.04"/><rect x="670.60" y="135.90" width="1.8" height="15.07"/><rect x="673.19" y="128.45" width="1.8" height="7.44"/><rect x="675.79" y="127.66" width="1.8" height="0.79"/><rect x="678.38" y="127.11" width="1.8" height="0.60"/><rect x="680.98" y="104.23" width="1.8" height="22.94"/><rect x="691.35" y="149.26" width="1.8" height="13.54"/><rect x="699.14" y="150.15" width="1.8" height="0.60"/><rect x="701.73" y="138.09" width="1.8" height="12.26"/><rect x="704.33" y="113.87" width="1.8" height="24.22"/><rect x="709.51" y="89.71" width="1.8" height="28.68"/><rect x="712.11" y="89.29" width="1.8" height="0.60"/><rect x="717.30" y="104.60" width="1.8" height="5.67"/><rect x="719.89" y="79.40" width="1.8" height="25.20"/><rect x="725.08" y="92.76" width="1.8" height="1.59"/><rect x="727.68" y="87.51" width="1.8" height="5.25"/><rect x="740.65" y="94.35" width="1.8" height="14.46"/><rect x="743.24" y="88.00" width="1.8" height="6.35"/><rect x="753.62" y="108.38" width="1.8" height="22.64"/><rect x="769.19" y="138.19" width="1.8" height="0.60"/><rect x="771.78" y="132.60" width="1.8" height="5.80"/><rect x="776.97" y="129.92" width="1.8" height="12.75"/><rect x="782.16" y="132.17" width="1.8" height="5.37"/><rect x="784.75" y="131.66" width="1.8" height="0.60"/><rect x="795.13" y="137.42" width="1.8" height="6.71"/><rect x="797.73" y="127.11" width="1.8" height="10.31"/><rect x="802.92" y="137.91" width="1.8" height="2.62"/><rect x="815.89" y="210.27" width="1.8" height="2.14"/><rect x="821.08" y="202.16" width="1.8" height="10.13"/><rect x="823.67" y="151.94" width="1.8" height="50.21"/><rect x="828.86" y="194.65" width="1.8" height="6.35"/><rect x="831.46" y="174.27" width="1.8" height="20.38"/><rect x="847.02" y="221.07" width="1.8" height="26.42"/><rect x="849.62" y="216.62" width="1.8" height="4.45"/><rect x="854.81" y="214.66" width="1.8" height="17.57"/><rect x="857.40" y="212.47" width="1.8" height="2.20"/><rect x="862.59" y="214.42" width="1.8" height="8.79"/><rect x="867.78" y="197.15" width="1.8" height="25.20"/><rect x="878.16" y="201.91" width="1.8" height="13.67"/><rect x="880.75" y="193.19" width="1.8" height="8.72"/><rect x="888.54" y="194.83" width="1.8" height="2.01"/><rect x="898.91" y="223.39" width="1.8" height="1.04"/><rect x="901.51" y="207.46" width="1.8" height="15.92"/><rect x="906.70" y="219.42" width="1.8" height="4.15"/><rect x="909.29" y="215.27" width="1.8" height="4.15"/><rect x="917.07" y="244.19" width="1.8" height="4.70"/><rect x="922.26" y="223.08" width="1.8" height="38.32"/><rect x="927.45" y="218.08" width="1.8" height="23.31"/><rect x="930.05" y="206.73" width="1.8" height="11.35"/><rect x="935.24" y="210.94" width="1.8" height="5.13"/><rect x="940.43" y="214.36" width="1.8" height="2.38"/><rect x="943.02" y="208.74" width="1.8" height="5.61"/><rect x="948.21" y="207.95" width="1.8" height="3.72"/><rect x="950.80" y="207.34" width="1.8" height="0.61"/><rect x="953.40" y="194.42" width="1.8" height="12.82"/></g>
<g fill="#f23645"><rect x="6.40" y="330.50" width="1.8" height="0.60"/><rect x="11.59" y="319.36" width="1.8" height="2.50"/><rect x="14.19" y="321.86" width="1.8" height="13.00"/><rect x="19.38" y="333.52" width="1.8" height="4.45"/><rect x="21.97" y="337.97" width="1.8" height="1.89"/><rect x="24.57" y="339.86" width="1.8" height="2.14"/><rect x="29.76" y="337.42" width="1.8" height="19.46"/><rect x="32.35" y="356.88" width="1.8" height="14.28"/><rect x="45.32" y="336.51" width="1.8" height="5.19"/><rect x="47.92" y="341.69" width="1.8" height="5.06"/><rect x="50.51" y="346.76" width="1.8" height="6.96"/><rect x="55.70" y="342.24" width="1.8" height="13.91"/><rect x="66.08" y="343.10" width="1.8" height="8.30"/><rect x="71.27" y="323.02" width="1.8" height="6.04"/><rect x="76.46" y="318.08" width="1.8" height="0.67"/><rect x="79.05" y="318.75" width="1.8" height="3.97"/><rect x="84.24" y="291.30" width="1.8" height="7.81"/><rect x="86.83" y="299.11" width="1.8" height="6.16"/><rect x="89.43" y="305.27" width="1.8" height="7.26"/><rect x="97.21" y="304.35" width="1.8" height="4.70"/><rect x="102.40" y="303.80" width="1.8" height="6.59"/><rect x="105.00" y="310.39" width="1.8" height="4.33"/><rect x="110.19" y="310.15" width="1.8" height="5.13"/><rect x="125.75" y="293.31" width="1.8" height="1.83"/><rect x="128.35" y="295.14" width="1.8" height="8.85"/><rect x="130.94" y="303.81" width="1.8" height="0.60"/><rect x="136.13" y="302.16" width="1.8" height="0.85"/><rect x="138.72" y="303.01" width="1.8" height="13.36"/><rect x="143.91" y="310.70" width="1.8" height="9.09"/><rect x="146.51" y="319.79" width="1.8" height="4.51"/><rect x="154.29" y="320.52" width="1.8" height="0.92"/><rect x="156.89" y="321.44" width="1.8" height="8.11"/><rect x="159.48" y="329.55" width="1.8" height="1.16"/><rect x="162.07" y="330.71" width="1.8" height="0.67"/><rect x="164.67" y="331.38" width="1.8" height="4.51"/><rect x="169.86" y="335.04" width="1.8" height="6.59"/><rect x="172.45" y="341.63" width="1.8" height="17.69"/><rect x="177.64" y="349.99" width="1.8" height="6.04"/><rect x="182.83" y="351.21" width="1.8" height="7.81"/><rect x="193.21" y="343.58" width="1.8" height="5.00"/><rect x="195.80" y="348.59" width="1.8" height="11.35"/><rect x="198.40" y="359.94" width="1.8" height="19.16"/><rect x="200.99" y="379.09" width="1.8" height="2.44"/><rect x="206.18" y="371.65" width="1.8" height="14.64"/><rect x="213.97" y="372.99" width="1.8" height="1.83"/><rect x="216.56" y="374.82" width="1.8" height="2.38"/><rect x="232.13" y="329.92" width="1.8" height="6.04"/><rect x="234.72" y="335.96" width="1.8" height="0.79"/><rect x="245.10" y="311.19" width="1.8" height="3.54"/><rect x="247.69" y="314.72" width="1.8" height="10.07"/><rect x="250.29" y="324.79" width="1.8" height="3.42"/><rect x="258.07" y="312.47" width="1.8" height="0.60"/><rect x="263.26" y="310.64" width="1.8" height="8.97"/><rect x="265.86" y="319.61" width="1.8" height="3.60"/><rect x="268.45" y="323.21" width="1.8" height="9.58"/><rect x="273.64" y="328.33" width="1.8" height="23.98"/><rect x="276.23" y="352.31" width="1.8" height="4.51"/><rect x="278.83" y="356.82" width="1.8" height="15.68"/><rect x="281.42" y="372.50" width="1.8" height="25.14"/><rect x="286.61" y="385.19" width="1.8" height="6.10"/><rect x="291.80" y="350.54" width="1.8" height="5.06"/><rect x="296.99" y="355.24" width="1.8" height="13.54"/><rect x="304.77" y="357.31" width="1.8" height="11.35"/><rect x="307.37" y="368.66" width="1.8" height="7.20"/><rect x="315.15" y="364.14" width="1.8" height="6.10"/><rect x="320.34" y="364.08" width="1.8" height="2.93"/><rect x="325.53" y="353.83" width="1.8" height="4.82"/><rect x="335.91" y="334.55" width="1.8" height="8.85"/><rect x="338.50" y="343.40" width="1.8" height="20.62"/><rect x="341.10" y="364.02" width="1.8" height="2.93"/><rect x="346.28" y="364.76" width="1.8" height="1.59"/><rect x="348.88" y="366.34" width="1.8" height="0.92"/><rect x="351.47" y="367.26" width="1.8" height="10.01"/><rect x="356.66" y="366.40" width="1.8" height="10.25"/><rect x="361.85" y="373.36" width="1.8" height="11.23"/><rect x="364.45" y="384.58" width="1.8" height="13.30"/><rect x="377.42" y="375.37" width="1.8" height="1.83"/><rect x="385.20" y="357.49" width="1.8" height="3.48"/><rect x="387.80" y="360.97" width="1.8" height="5.00"/><rect x="390.39" y="365.98" width="1.8" height="6.04"/><rect x="408.55" y="339.13" width="1.8" height="1.53"/><rect x="413.74" y="334.74" width="1.8" height="7.08"/><rect x="424.12" y="325.04" width="1.8" height="1.53"/><rect x="426.71" y="326.56" width="1.8" height="14.09"/><rect x="429.31" y="340.65" width="1.8" height="15.19"/><rect x="431.90" y="355.85" width="1.8" height="1.16"/><rect x="439.69" y="348.10" width="1.8" height="0.60"/><rect x="444.88" y="343.77" width="1.8" height="3.66"/><rect x="447.47" y="347.31" width="1.8" height="0.60"/><rect x="450.06" y="347.79" width="1.8" height="9.33"/><rect x="452.66" y="357.13" width="1.8" height="1.83"/><rect x="460.44" y="341.51" width="1.8" height="2.07"/><rect x="470.82" y="314.48" width="1.8" height="1.34"/><rect x="476.01" y="309.48" width="1.8" height="0.60"/><rect x="481.20" y="306.06" width="1.8" height="9.95"/><rect x="486.39" y="315.82" width="1.8" height="4.39"/><rect x="491.58" y="311.19" width="1.8" height="9.27"/><rect x="504.55" y="283.36" width="1.8" height="2.32"/><rect x="507.14" y="285.68" width="1.8" height="12.93"/><rect x="509.74" y="298.62" width="1.8" height="4.51"/><rect x="512.33" y="303.13" width="1.8" height="1.16"/><rect x="514.93" y="304.29" width="1.8" height="3.36"/><rect x="517.52" y="307.65" width="1.8" height="5.67"/><rect x="538.28" y="185.87" width="1.8" height="4.58"/><rect x="543.47" y="174.39" width="1.8" height="20.32"/><rect x="548.66" y="171.40" width="1.8" height="3.11"/><rect x="551.25" y="174.52" width="1.8" height="4.33"/><rect x="566.82" y="123.02" width="1.8" height="7.44"/><rect x="572.01" y="129.06" width="1.8" height="29.96"/><rect x="574.60" y="159.02" width="1.8" height="6.83"/><rect x="579.79" y="141.57" width="1.8" height="1.89"/><rect x="584.98" y="132.42" width="1.8" height="6.16"/><rect x="590.17" y="133.52" width="1.8" height="8.60"/><rect x="597.95" y="124.43" width="1.8" height="11.17"/><rect x="608.33" y="109.35" width="1.8" height="23.25"/><rect x="610.92" y="132.60" width="1.8" height="4.58"/><rect x="616.11" y="109.78" width="1.8" height="6.89"/><rect x="621.30" y="107.99" width="1.8" height="0.60"/><rect x="631.68" y="79.46" width="1.8" height="37.22"/><rect x="634.27" y="116.68" width="1.8" height="15.56"/><rect x="639.46" y="130.65" width="1.8" height="3.23"/><rect x="642.06" y="133.88" width="1.8" height="12.93"/><rect x="644.65" y="146.82" width="1.8" height="2.50"/><rect x="652.44" y="121.19" width="1.8" height="21.35"/><rect x="655.03" y="142.55" width="1.8" height="10.01"/><rect x="660.22" y="146.45" width="1.8" height="9.95"/><rect x="662.81" y="156.40" width="1.8" height="5.43"/><rect x="683.57" y="104.23" width="1.8" height="31.48"/><rect x="686.16" y="135.71" width="1.8" height="11.47"/><rect x="688.76" y="147.18" width="1.8" height="15.62"/><rect x="693.95" y="149.26" width="1.8" height="0.79"/><rect x="696.54" y="149.99" width="1.8" height="0.60"/><rect x="706.92" y="113.87" width="1.8" height="4.51"/><rect x="714.70" y="89.46" width="1.8" height="20.81"/><rect x="722.49" y="79.40" width="1.8" height="14.95"/><rect x="730.27" y="87.51" width="1.8" height="0.67"/><rect x="732.87" y="88.18" width="1.8" height="12.39"/><rect x="735.46" y="100.57" width="1.8" height="3.60"/><rect x="738.05" y="104.17" width="1.8" height="4.64"/><rect x="745.84" y="88.00" width="1.8" height="14.22"/><rect x="748.43" y="102.22" width="1.8" height="10.74"/><rect x="751.03" y="112.95" width="1.8" height="18.06"/><rect x="756.22" y="108.38" width="1.8" height="21.54"/><rect x="758.81" y="129.92" width="1.8" height="7.69"/><rect x="761.40" y="137.36" width="1.8" height="0.60"/><rect x="764.00" y="137.73" width="1.8" height="0.67"/><rect x="766.59" y="138.19" width="1.8" height="0.60"/><rect x="774.38" y="132.60" width="1.8" height="10.07"/><rect x="779.57" y="129.92" width="1.8" height="7.63"/><rect x="787.35" y="131.75" width="1.8" height="8.85"/><rect x="789.94" y="140.59" width="1.8" height="2.14"/><rect x="792.54" y="142.73" width="1.8" height="1.40"/><rect x="800.32" y="127.11" width="1.8" height="13.42"/><rect x="805.51" y="137.91" width="1.8" height="1.77"/><rect x="808.11" y="139.68" width="1.8" height="29.59"/><rect x="810.70" y="169.27" width="1.8" height="16.35"/><rect x="813.29" y="185.62" width="1.8" height="26.78"/><rect x="818.48" y="210.27" width="1.8" height="2.01"/><rect x="826.27" y="151.94" width="1.8" height="49.05"/><rect x="834.05" y="174.27" width="1.8" height="4.03"/><rect x="836.64" y="178.30" width="1.8" height="19.28"/><rect x="839.24" y="197.58" width="1.8" height="3.84"/><rect x="841.83" y="201.42" width="1.8" height="33.25"/><rect x="844.43" y="234.68" width="1.8" height="12.81"/><rect x="852.21" y="216.62" width="1.8" height="15.62"/><rect x="860.00" y="212.47" width="1.8" height="10.74"/><rect x="865.18" y="214.42" width="1.8" height="7.93"/><rect x="870.37" y="197.15" width="1.8" height="16.35"/><rect x="872.97" y="213.50" width="1.8" height="0.79"/><rect x="875.56" y="214.30" width="1.8" height="1.28"/><rect x="883.35" y="193.19" width="1.8" height="0.67"/><rect x="885.94" y="193.86" width="1.8" height="2.99"/><rect x="891.13" y="194.83" width="1.8" height="17.14"/><rect x="893.72" y="211.98" width="1.8" height="10.80"/><rect x="896.32" y="222.78" width="1.8" height="1.65"/><rect x="904.10" y="207.46" width="1.8" height="16.11"/><rect x="911.89" y="215.27" width="1.8" height="2.07"/><rect x="914.48" y="217.35" width="1.8" height="31.54"/><rect x="919.67" y="244.19" width="1.8" height="17.21"/><rect x="924.86" y="223.08" width="1.8" height="18.30"/><rect x="932.64" y="206.73" width="1.8" height="9.33"/><rect x="937.83" y="210.94" width="1.8" height="5.80"/><rect x="945.61" y="208.74" width="1.8" height="2.93"/></g>
<polyline points="6.2,330.6 12.5,331.9 17.5,332.2 20.6,330.4 26.9,331.5 30.0,329.8 33.8,332.8 38.8,334.0 45.0,333.8 50.0,332.8 55.0,333.8 63.8,333.8 68.8,336.5 75.0,336.5 85.0,335.9 89.4,334.5 95.0,335.9 102.5,336.2 105.6,334.4 110.0,336.0 118.1,338.4 125.0,337.5 128.0,335.8 139.2,334.5 141.8,336.0 153.0,333.0 160.5,333.8 165.5,331.2 173.0,332.5 179.2,330.5 193.0,332.0 203.0,335.0 214.2,335.0 220.5,338.0 233.0,337.0 238.0,338.0 253.0,337.0 264.2,336.2 271.8,338.8 278.0,342.5 284.2,343.0 290.5,341.2 300.5,342.0 303.0,343.5 306.8,342.5 310.5,344.5 318.0,347.0 323.0,349.5 325.5,348.2 329.2,350.8 338.0,350.0 345.5,347.5 358.0,347.5 364.2,349.5 375.5,347.5 384.0,349.5 394.0,350.0 397.8,350.8 409.0,350.0 412.8,351.5 421.5,350.8 430.2,348.8 437.8,344.5 449.0,343.8 459.0,342.0 466.5,341.2 472.8,339.0 481.5,338.0 487.8,336.5 490.2,337.5 501.5,336.8 507.8,338.0 514.0,337.5 520.2,340.0 523.5,334.5 526.0,336.2 531.5,334.2 536.5,332.5 544.0,328.0 550.2,329.2 556.5,330.0 565.2,325.0 571.5,327.5 576.0,328.0 579.0,330.5 582.8,332.0 589.0,330.0 596.5,330.0 599.5,332.0 604.0,330.5 612.8,329.2 617.8,327.0 629.0,327.5 632.8,322.5 635.2,322.0 640.0,323.8 647.5,322.5 662.5,323.2 671.2,318.8 681.2,322.5 691.2,317.0 700.0,317.5 706.2,319.5 710.0,318.2 718.8,323.2 723.8,322.0 728.8,325.5 736.2,325.5 740.0,323.8 747.5,321.2 753.8,321.8 760.0,325.0 767.5,322.5 772.5,322.0 777.5,323.8 782.5,328.0 790.0,328.2 795.0,326.5 798.8,329.5 802.5,328.2 808.8,328.2 812.5,330.0 818.8,325.0 826.2,328.8 832.5,337.0 838.8,338.8 845.0,338.8 847.5,340.8 852.5,339.0 860.0,339.8 866.2,341.2 873.8,337.8 884.4,337.2 886.5,336.0 892.5,338.5 901.9,337.2 905.0,339.4 907.2,346.0 910.0,342.8 917.5,340.4 920.6,342.5 923.1,342.8 926.2,350.6 928.8,354.0 935.6,354.6 938.5,353.1 941.2,356.2 944.4,355.6 954.4,360.0" fill="none" stroke="#c9377a" stroke-width="1.2" stroke-linejoin="round" stroke-linecap="round"/>
<line x1="5.5" x2="981.0" y1="194.42" y2="194.42" stroke="#089981" stroke-width="0.6" stroke-dasharray="0.6 1.1" opacity="0.7"/>
<line x1="520.8" x2="520.8" y1="66.6" y2="286.3" stroke="#4a6cf7" stroke-width="1.1"/>
<line x1="718.2" x2="718.2" y1="48.7" y2="72" stroke="#4a6cf7" stroke-width="1.1"/>
<line x1="855.4" x2="855.4" y1="242" y2="278" stroke="#4a6cf7" stroke-width="1.1"/>
<line x1="905" x2="905" y1="182.5" y2="187.5" stroke="#4a6cf7" stroke-width="1.1"/>
<g>
<path d="M948.5 452.6q.5 2.4 2.9 2.9q-2.4.5-2.9 2.9q-.5-2.4-2.9-2.9q2.4-.5 2.9-2.9z" fill="#6a3df5"/>
<circle cx="954.3" cy="453.8" r="5" fill="#fff" stroke="#a436c9" stroke-width="1"/>
<path d="M955.4 450.6l-2.9 3.6h1.9l-1.1 2.9 3.1-3.8h-1.9z" fill="#a436c9"/>
<circle cx="962.2" cy="453.3" r="5.6" fill="#fff" stroke="#f0525c" stroke-width="1.1"/>
<clipPath id="flag"><circle cx="962.2" cy="453.3" r="4.4"/></clipPath>
<g clip-path="url(#flag)"><rect x="957" y="448" width="11" height="11" fill="#fff"/><rect x="957" y="448.6" width="5.6" height="6.2" fill="#3f9bf2"/><rect x="962.6" y="450.2" width="5" height="1.1" fill="#f0525c"/><rect x="962.6" y="452.6" width="5" height="1.4" fill="#f0525c"/><rect x="957" y="456.2" width="11" height="1.5" fill="#f0525c"/></g>
</g>
<rect x="981.0" y="15.0" width="37.39999999999998" height="461.3" fill="#fff"/>
<rect x="5.5" y="460.7" width="1012.9" height="15.600000000000023" fill="#fff"/>
<rect x="1018.4" y="0" width="5.600000000000023" height="496" fill="#fff"/>
<rect x="0" y="0" width="5.5" height="496" fill="#fff"/>
<clipPath id="pane"><rect x="5.5" y="15.0" width="975.5" height="445.7"/></clipPath>
<g clip-path="url(#pane)" fill="#f23a4a" stroke="#f23a4a" stroke-width="0.3" font-size="13.2">
<text y="62.4"><tspan x="489.80" textLength="36.50" lengthAdjust="spacingAndGlyphs">Trump</tspan> <tspan x="531.40" textLength="47.70" lengthAdjust="spacingAndGlyphs">election</tspan></text>
<text y="43.5"><tspan x="674.40" textLength="36.00" lengthAdjust="spacingAndGlyphs">Tariffs</tspan> <tspan x="716.00" textLength="6.00" lengthAdjust="spacingAndGlyphs">+</tspan> <tspan x="727.00" textLength="27.10" lengthAdjust="spacingAndGlyphs">$36T</tspan> <tspan x="759.40" textLength="26.40" lengthAdjust="spacingAndGlyphs">debt</tspan> <tspan x="791.10" textLength="38.50" lengthAdjust="spacingAndGlyphs">ceiling</tspan> <tspan x="834.50" textLength="62.90" lengthAdjust="spacingAndGlyphs">suspension</tspan></text>
<text y="194.4"><tspan x="908.30" textLength="36.40" lengthAdjust="spacingAndGlyphs">Trump</tspan> <tspan x="949.90" textLength="29.50" lengthAdjust="spacingAndGlyphs">tariff</tspan></text>
<text y="294.6"><tspan x="814.20" textLength="20.60" lengthAdjust="spacingAndGlyphs">End</tspan> <tspan x="840.00" textLength="11.00" lengthAdjust="spacingAndGlyphs">of</tspan> <tspan x="856.20" textLength="26.40" lengthAdjust="spacingAndGlyphs">debt</tspan> <tspan x="888.10" textLength="62.90" lengthAdjust="spacingAndGlyphs">suspension</tspan> <tspan x="956.10" textLength="38.00" lengthAdjust="spacingAndGlyphs">period</tspan></text>
</g>
<line x1="981.0" x2="981.0" y1="15.0" y2="476.3" stroke="#eaeaec" stroke-width="0.7"/>
<line x1="5.5" x2="1018.4" y1="460.7" y2="460.7" stroke="#eaeaec" stroke-width="0.7"/>
<rect x="5.5" y="15.0" width="1012.9" height="461.3" fill="none" stroke="#eaeaec" stroke-width="0.8"/>
<g fill="#20242e" stroke="#20242e" stroke-width="0.13" font-size="6.7">
<text x="987.0" y="451.9" textLength="23.9" lengthAdjust="spacingAndGlyphs">−30.00%</text>
<text x="987.0" y="432.1" textLength="23.9" lengthAdjust="spacingAndGlyphs">−25.00%</text>
<text x="987.0" y="412.3" textLength="23.9" lengthAdjust="spacingAndGlyphs">−20.00%</text>
<text x="987.0" y="392.5" textLength="23.9" lengthAdjust="spacingAndGlyphs">−15.00%</text>
<text x="987.0" y="372.6" textLength="23.9" lengthAdjust="spacingAndGlyphs">−10.00%</text>
<text x="987.0" y="352.8" textLength="20.4" lengthAdjust="spacingAndGlyphs">−5.00%</text>
<text x="986.4" y="333.0" textLength="16.9" lengthAdjust="spacingAndGlyphs">0.00%</text>
<text x="986.4" y="313.2" textLength="16.9" lengthAdjust="spacingAndGlyphs">5.00%</text>
<text x="986.4" y="293.4" textLength="20.4" lengthAdjust="spacingAndGlyphs">10.00%</text>
<text x="986.4" y="273.5" textLength="20.4" lengthAdjust="spacingAndGlyphs">15.00%</text>
<text x="986.4" y="253.7" textLength="20.4" lengthAdjust="spacingAndGlyphs">20.00%</text>
<text x="986.4" y="233.9" textLength="20.4" lengthAdjust="spacingAndGlyphs">25.00%</text>
<text x="986.4" y="214.1" textLength="20.4" lengthAdjust="spacingAndGlyphs">30.00%</text>
<text x="986.4" y="194.2" textLength="20.4" lengthAdjust="spacingAndGlyphs">35.00%</text>
<text x="986.4" y="174.4" textLength="20.4" lengthAdjust="spacingAndGlyphs">40.00%</text>
<text x="986.4" y="154.6" textLength="20.4" lengthAdjust="spacingAndGlyphs">45.00%</text>
<text x="986.4" y="134.8" textLength="20.4" lengthAdjust="spacingAndGlyphs">50.00%</text>
<text x="986.4" y="115.0" textLength="20.4" lengthAdjust="spacingAndGlyphs">55.00%</text>
<text x="986.4" y="95.1" textLength="20.4" lengthAdjust="spacingAndGlyphs">60.00%</text>
<text x="986.4" y="75.3" textLength="20.4" lengthAdjust="spacingAndGlyphs">65.00%</text>
<text x="986.4" y="55.5" textLength="20.4" lengthAdjust="spacingAndGlyphs">70.00%</text>
<text x="986.4" y="35.7" textLength="20.4" lengthAdjust="spacingAndGlyphs">75.00%</text>
</g>
<clipPath id="tax"><rect x="5.5" y="460.7" width="975.5" height="15.600000000000023"/></clipPath>
<g fill="#20242e" stroke="#20242e" stroke-width="0.13" font-size="6.7" clip-path="url(#tax)">
<text x="27.4" y="470.9" textLength="11.75" lengthAdjust="spacingAndGlyphs">May</text>
<text x="108.2" y="470.9" textLength="11" lengthAdjust="spacingAndGlyphs">Jun</text>
<text x="187.3" y="470.9" textLength="8.5" lengthAdjust="spacingAndGlyphs">Jul</text>
<text x="266.3" y="470.9" textLength="11.25" lengthAdjust="spacingAndGlyphs">Aug</text>
<text x="346.9" y="470.9" textLength="11" lengthAdjust="spacingAndGlyphs">Sep</text>
<text x="424.8" y="470.9" textLength="10.75" lengthAdjust="spacingAndGlyphs">Oct</text>
<text x="505.1" y="470.9" textLength="11" lengthAdjust="spacingAndGlyphs">Nov</text>
<text x="583.1" y="470.9" textLength="10.75" lengthAdjust="spacingAndGlyphs">Dec</text>
<text x="661.4" y="470.9" font-weight="bold" textLength="15" lengthAdjust="spacingAndGlyphs">2025</text>
<text x="744.1" y="470.9" textLength="10.5" lengthAdjust="spacingAndGlyphs">Feb</text>
<text x="816.5" y="470.9" textLength="11" lengthAdjust="spacingAndGlyphs">Mar</text>
<text x="897.2" y="470.9" textLength="10.5" lengthAdjust="spacingAndGlyphs">Apr</text>
<text x="974.4" y="470.9" textLength="11.75" lengthAdjust="spacingAndGlyphs">May</text>
</g>
<rect x="982.2" y="189.8" width="33.6" height="17.2" fill="#0e9c84"/>
<g fill="#fff" font-size="6.7">
<text x="987" y="196.7" font-weight="bold" textLength="23.4" lengthAdjust="spacingAndGlyphs">+34.35%</text>
<text x="987" y="204.5" textLength="25.9" lengthAdjust="spacingAndGlyphs" opacity="0.85">13:10:56</text>
</g>
<rect x="982.1" y="355.4" width="28" height="9.4" fill="#c6125f"/>
<text x="986.6" y="362.4" fill="#fff" font-size="6.7" font-weight="bold" textLength="19.8" lengthAdjust="spacingAndGlyphs">−7.42%</text>
<rect x="982.2" y="449.2" width="17.8" height="9.2" fill="#26a69a"/>
<text x="986.3" y="456" fill="#fff" stroke="#fff" stroke-width="0.15" font-size="6.7" textLength="10.4" lengthAdjust="spacingAndGlyphs">556</text>
<g fill="#20242e" stroke="#20242e" stroke-width="0.12" font-size="6.7">
<text y="10.7"><tspan x="5.80" textLength="40.00" lengthAdjust="spacingAndGlyphs">zoltan_vardai</tspan> <tspan x="48.10" textLength="28.50" lengthAdjust="spacingAndGlyphs">published</tspan> <tspan x="78.90" textLength="7.00" lengthAdjust="spacingAndGlyphs">on</tspan> <tspan x="88.75" textLength="51.60" lengthAdjust="spacingAndGlyphs">TradingView.com,</tspan> <tspan x="143.50" textLength="10.30" lengthAdjust="spacingAndGlyphs">Apr</tspan> <tspan x="155.80" textLength="8.90" lengthAdjust="spacingAndGlyphs">21,</tspan> <tspan x="167.50" textLength="13.30" lengthAdjust="spacingAndGlyphs">2025</tspan> <tspan x="183.60" textLength="15.90" lengthAdjust="spacingAndGlyphs">10:49</tspan> <tspan x="201.90" textLength="12.00" lengthAdjust="spacingAndGlyphs">UTC</tspan></text>
<text y="25.5"><tspan x="10.20" textLength="20.60" lengthAdjust="spacingAndGlyphs">Bitcoin</tspan> <tspan x="33.60" textLength="2.60" lengthAdjust="spacingAndGlyphs">/</tspan> <tspan x="38.30" textLength="12.00" lengthAdjust="spacingAndGlyphs">U.S.</tspan> <tspan x="53.10" textLength="16.70" lengthAdjust="spacingAndGlyphs">Dollar</tspan> <tspan x="72.00" textLength="2.60" lengthAdjust="spacingAndGlyphs">·</tspan> <tspan x="77.70" textLength="7.00" lengthAdjust="spacingAndGlyphs">1D</tspan> <tspan x="87.00" textLength="2.60" lengthAdjust="spacingAndGlyphs">·</tspan> <tspan x="91.40" textLength="28.10" lengthAdjust="spacingAndGlyphs">BITSTAMP</tspan></text>
<text y="34.9"><tspan x="10.20" textLength="8.50" lengthAdjust="spacingAndGlyphs">Vol</tspan> <tspan x="21.00" textLength="2.60" lengthAdjust="spacingAndGlyphs">·</tspan> <tspan x="25.80" textLength="11.20" lengthAdjust="spacingAndGlyphs">BTC</tspan></text>
<text y="44.4"><tspan x="10.20" textLength="10.90" lengthAdjust="spacingAndGlyphs">DXY</tspan> <tspan x="23.70" textLength="2.60" lengthAdjust="spacingAndGlyphs">·</tspan> <tspan x="28.60" textLength="11.20" lengthAdjust="spacingAndGlyphs">TVC</tspan></text>
</g>
<g fill="#20242e" stroke-width="0.12" font-size="6.7">
<text y="25.5"><tspan x="124.2" textLength="4.6" lengthAdjust="spacingAndGlyphs" stroke="#20242e">O</tspan><tspan x="128.9" textLength="19.1" lengthAdjust="spacingAndGlyphs" fill="#089981" stroke="#089981">85,197</tspan></text>
<text y="25.5"><tspan x="152.7" textLength="4.0" lengthAdjust="spacingAndGlyphs" stroke="#20242e">H</tspan><tspan x="157.0" textLength="19.6" lengthAdjust="spacingAndGlyphs" fill="#089981" stroke="#089981">87,765</tspan></text>
<text y="25.5"><tspan x="181.1" textLength="3.4" lengthAdjust="spacingAndGlyphs" stroke="#20242e">L</tspan><tspan x="184.6" textLength="19.3" lengthAdjust="spacingAndGlyphs" fill="#089981" stroke="#089981">85,134</tspan></text>
<text y="25.5"><tspan x="208.1" textLength="4.2" lengthAdjust="spacingAndGlyphs" stroke="#20242e">C</tspan><tspan x="212.4" textLength="19.6" lengthAdjust="spacingAndGlyphs" fill="#089981" stroke="#089981">87,298</tspan></text>
<text y="25.5" fill="#089981" stroke="#089981"><tspan x="236.70" textLength="18.80" lengthAdjust="spacingAndGlyphs">+2,100</tspan> <tspan x="258.90" textLength="24.50" lengthAdjust="spacingAndGlyphs">(+2.46%)</tspan></text>
<text x="41.2" y="34.9" fill="#26a69a" stroke="#26a69a" textLength="10.7" lengthAdjust="spacingAndGlyphs">556</text>
<text x="44.5" y="44.4" fill="#d81b60" stroke="#d81b60" textLength="19.9" lengthAdjust="spacingAndGlyphs">−7.42%</text>
</g>
<g fill="#1b1e27"><path d="M5.6 482.9h4.7v5.9H7.9v-3.4H5.6z"/><circle cx="11.7" cy="484.15" r="1.2"/><path d="M13.7 482.9h2.7l-2.5 5.9h-2.7z"/></g>
<text x="18.8" y="488.8" fill="#3a3d46" font-size="7.2" textLength="39" lengthAdjust="spacingAndGlyphs">TradingView</text>
</svg></body></html>
